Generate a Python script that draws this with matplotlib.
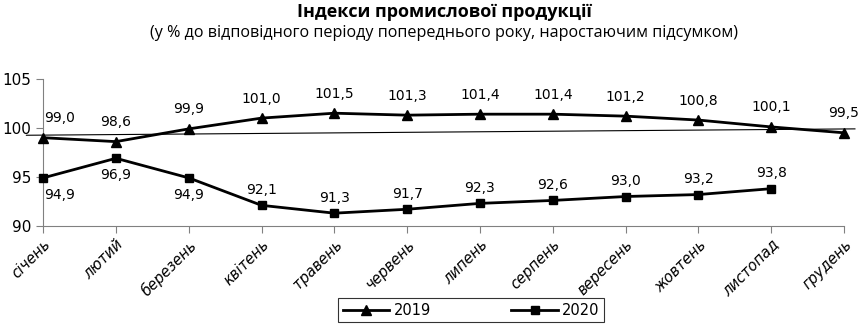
import matplotlib
matplotlib.use("Agg")
import matplotlib.pyplot as plt

months = ["січень", "лютий", "березень", "квітень", "травень", "червень",
          "липень", "серпень", "вересень", "жовтень", "листопад", "грудень"]
values_2019 = [99.0, 98.6, 99.9, 101.0, 101.5, 101.3, 101.4, 101.4, 101.2, 100.8, 100.1, 99.5]
values_2020 = [94.9, 96.9, 94.9, 92.1, 91.3, 91.7, 92.3, 92.6, 93.0, 93.2, 93.8]
# 2020 labels below the points for the first three months, above afterwards
below_2020 = [True, True, True] + [False] * 8
baseline = [99.25, 99.9]
yticks = [90, 95, 100, 105]


def fmt(v):
    return f"{v:.1f}".replace(".", ",")


fig = plt.figure(figsize=(8.63, 3.26), dpi=100)
ax = fig.add_axes([0.050, 0.307, 0.928, 0.451])

x19 = list(range(len(values_2019)))
x20 = list(range(len(values_2020)))

# slightly tilted reference line near 100
ax.plot([-0.23, 11.15], baseline, color="black", lw=0.8, zorder=1)

ax.plot(x19, values_2019, color="black", lw=2, marker="^", ms=7, label="2019", zorder=3)
ax.plot(x20, values_2020, color="black", lw=2, marker="s", ms=6, label="2020", zorder=3)

lab_kw = dict(fontsize=10, ha="center", family="DejaVu Sans")
for i, v in enumerate(values_2019):
    dx = 12 if i == 0 else 0
    ax.annotate(fmt(v), (i, v), xytext=(dx, 9), textcoords="offset points",
                va="bottom", **lab_kw)
for i, v in enumerate(values_2020):
    dx = 12 if i == 0 else 0
    if below_2020[i]:
        ax.annotate(fmt(v), (i, v), xytext=(dx, -7), textcoords="offset points",
                    va="top", **lab_kw)
    else:
        ax.annotate(fmt(v), (i, v), xytext=(0, 6), textcoords="offset points",
                    va="bottom", **lab_kw)

ax.set_xlim(0, 11)
ax.set_ylim(90, 105)
ax.set_yticks(yticks)
ax.set_yticklabels([str(t) for t in yticks], fontsize=11)
ax.set_xticks(x19)
ax.set_xticklabels(months, rotation=45, ha="right", rotation_mode="anchor",
                   fontsize=10.5, style="italic")

for side in ["top", "right"]:
    ax.spines[side].set_visible(False)
ax.spines["left"].set_color("#808080")
ax.spines["bottom"].set_color("#808080")
ax.tick_params(axis="both", direction="out", length=5, color="#808080")
ax.tick_params(axis="x", pad=3)
for line in ax.lines:
    line.set_clip_on(False)

fig.text(0.515, 0.963, "Індекси промислової продукції", ha="center", va="center",
         fontsize=13, fontweight="bold", family="Open Sans")
fig.text(0.515, 0.900,
         "(у % до відповідного періоду попереднього року, наростаючим підсумком)",
         ha="center", va="center", fontsize=11.6, family="Open Sans")

leg = fig.legend(loc="center", bbox_to_anchor=(0.546, 0.048), ncol=2, frameon=True,
                 fancybox=False, edgecolor="black", fontsize=10.5, handlelength=3.2,
                 handletextpad=0.3, columnspacing=5.5, borderpad=0.3,
                 borderaxespad=0)
leg.get_frame().set_linewidth(0.8)

fig.savefig("out.png", dpi=100)
